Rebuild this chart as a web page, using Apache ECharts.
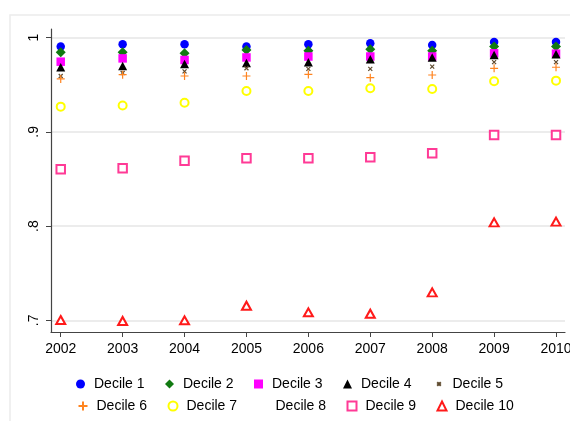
<!DOCTYPE html>
<html>
<head>
<meta charset="utf-8">
<script src="https://cdn.jsdelivr.net/npm/echarts@6/dist/echarts.min.js"></script>
<style>
html,body{margin:0;padding:0;background:#fff;}
#chart{width:570px;height:421px;}
</style>
</head>
<body>
<div id="chart"></div>
<script>
//年份
var years=[2002,2003,2004,2005,2006,2007,2008,2009,2010];
//各分位数值
var decile1=[0.9905,0.993,0.993,0.9905,0.993,0.994,0.9923,0.9954,0.9954];
var decile2=[0.9845,0.9845,0.9834,0.987,0.986,0.9877,0.986,0.9905,0.9905];
var decile3=[0.9745,0.978,0.9763,0.979,0.980,0.980,0.980,0.9834,0.983];
var decile4=[0.9686,0.970,0.972,0.973,0.974,0.977,0.979,0.9816,0.9824];
var decile5=[0.9593,0.9625,0.9643,0.9675,0.9668,0.9668,0.9692,0.974,0.974];
var decile6=[0.9562,0.9607,0.9593,0.9593,0.961,0.9575,0.9604,0.9675,0.9686];
var decile7=[0.9268,0.928,0.931,0.9434,0.9434,0.9463,0.9455,0.9537,0.9544];
var decile8=[];
var decile9=[0.8603,0.8613,0.8694,0.872,0.872,0.873,0.8773,0.8967,0.8967];
var decile10=[0.7003,0.6993,0.700,0.7155,0.7085,0.707,0.7297,0.804,0.8047];
//坐标轴刻度
var yTicks=[0.7,0.8,0.9,1];
var yTickLabels={'0.7':'.7','0.8':'.8','0.9':'.9','1':'1'};
//图例两行
var legendRow1=['Decile 1','Decile 2','Decile 3','Decile 4','Decile 5'];
var legendRow2=['Decile 6','Decile 7','Decile 8','Decile 9','Decile 10'];

function pairs(arr){
	var out=[];
	for(var i=0;i<arr.length;i++){
		out.push([years[i],arr[i]]);
	}
	return out;
}

var crossPath='path://M0,0L10,10M10,0L0,10';
var plusPath='path://M5,0L5,10M0,5L10,5';
//图例里的小图标
var legendIcons={
	'Decile 5':'path://M-3,-3M0,0L4,4M4,0L0,4M7,7',
	'Decile 8':'none'
};
function legendData(names){
	var out=[];
	for(var i=0;i<names.length;i++){
		if(legendIcons[names[i]]){
			out.push({name:names[i],icon:legendIcons[names[i]]});
		}else{
			out.push(names[i]);
		}
	}
	return out;
}
function makeLegend(names,top){
	return {
		left:76,
		top:top,
		padding:0,
		itemWidth:9,
		itemHeight:9,
		itemGap:15,
		textStyle:{color:'#000',fontSize:14,width:56,lineHeight:14,padding:[0,0,0,4]},
		data:legendData(names)
	};
}

var myChart=echarts.init(document.getElementById('chart'));
var option={
	backgroundColor:'#fff',
	animation:false,
	textStyle:{fontFamily:'Liberation Sans'},
	graphic:[{
		type:'rect',
		shape:{x:10,y:15,width:580,height:430},
		style:{fill:'none',stroke:'#ececec',lineWidth:1.5},
		silent:true,
		z:-1
	}],
	grid:{left:51,right:5,top:29,bottom:89,outerBoundsMode:'none',containLabel:false},
	xAxis:{
		type:'value',
		min:2001.843,
		max:2010.145,
		axisLine:{show:true,lineStyle:{color:'#444',width:1.2}},
		axisTick:{show:true,length:5,lineStyle:{color:'#444'},customValues:years},
		axisLabel:{customValues:years,color:'#000',fontSize:14,margin:10,hideOverlap:false,
			formatter:function(v){return String(Math.round(v));}},
		splitLine:{show:false}
	},
	yAxis:{
		type:'value',
		min:0.6876,
		max:1.0092,
		axisLine:{show:true,lineStyle:{color:'#444',width:1.2}},
		axisTick:{show:true,length:5,lineStyle:{color:'#444'},customValues:yTicks},
		axisLabel:{customValues:yTicks,color:'#000',fontSize:14,margin:10,rotate:90,
			formatter:function(v){return yTickLabels[String(Math.round(v*10)/10)];}},
		splitLine:{show:true,lineStyle:{color:'#e6e6e6',width:1.5}}
	},
	legend:[makeLegend(legendRow1,377),makeLegend(legendRow2,399)],
	series:[
		{name:'Decile 1',type:'scatter',symbol:'circle',symbolSize:8.5,itemStyle:{color:'#0000ff',opacity:1},data:pairs(decile1)},
		{name:'Decile 2',type:'scatter',symbol:'diamond',symbolSize:10,itemStyle:{color:'#117a11',opacity:1},data:pairs(decile2)},
		{name:'Decile 3',type:'scatter',symbol:'rect',symbolSize:8.5,itemStyle:{color:'#ff00ff',opacity:1},data:pairs(decile3)},
		{name:'Decile 4',type:'scatter',symbol:'triangle',symbolSize:[9,8.5],itemStyle:{color:'#000',opacity:1},data:pairs(decile4)},
		{name:'Decile 5',type:'scatter',symbol:crossPath,symbolSize:4,itemStyle:{color:'none',borderColor:'#5e4a2e',borderWidth:1.2,opacity:1},data:pairs(decile5)},
		{name:'Decile 6',type:'scatter',symbol:plusPath,symbolSize:8,itemStyle:{color:'none',borderColor:'#ff8420',borderWidth:1.2,opacity:1},data:pairs(decile6)},
		{name:'Decile 7',type:'scatter',symbol:'emptyCircle',symbolSize:8,itemStyle:{color:'#ffff00',borderColor:'#ffff00',borderWidth:1.5,opacity:1},data:pairs(decile7)},
		{name:'Decile 8',type:'scatter',symbol:'none',itemStyle:{color:'#fff',opacity:0},data:pairs(decile8)},
		{name:'Decile 9',type:'scatter',symbol:'emptyRect',symbolSize:8.5,itemStyle:{color:'#ff3a96',borderColor:'#ff3a96',borderWidth:1.5,opacity:1},data:pairs(decile9)},
		{name:'Decile 10',type:'scatter',symbol:'emptyTriangle',symbolSize:[9,8],itemStyle:{color:'#ff1a1a',borderColor:'#ff1a1a',borderWidth:1.5,opacity:1},data:pairs(decile10)}
	]
};
myChart.setOption(option);
</script>
</body>
</html>
